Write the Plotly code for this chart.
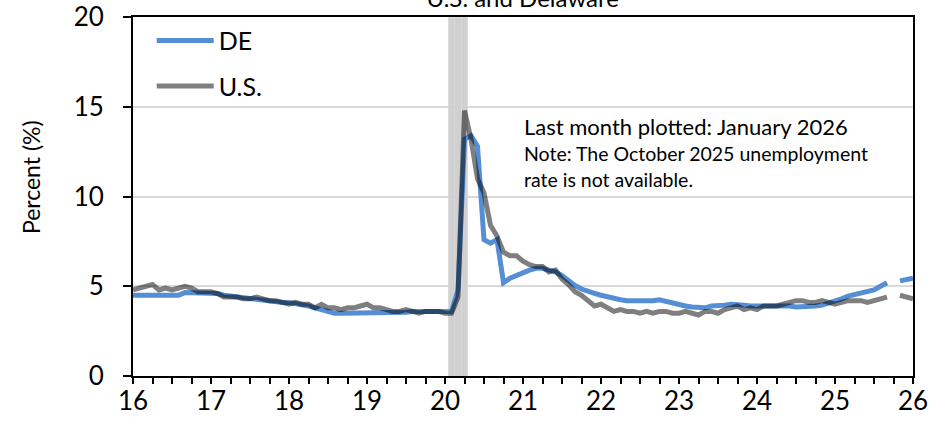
import pandas as pd
import plotly.graph_objects as go

# monthly unemployment rate, Jan 2016 - Jan 2026 (Oct 2025 not available)
months = pd.date_range("2016-01-01", "2026-01-01", freq="MS")

de_rate = [
    4.5, 4.5, 4.5, 4.5, 4.5, 4.5, 4.5, 4.5, 4.65, 4.65, 4.65, 4.65,
    4.65, 4.6, 4.5, 4.45, 4.4, 4.4, 4.35, 4.3, 4.25, 4.2, 4.15, 4.1,
    4.1, 4.05, 4.0, 3.9, 3.8, 3.7, 3.6, 3.5, 3.5, 3.5, 3.5, 3.5,
    3.5, 3.5, 3.5, 3.5, 3.5, 3.5, 3.55, 3.6, 3.6, 3.6, 3.6, 3.6,
    3.6, 3.6, 4.8, 13.2, 13.4, 12.8, 7.6, 7.4, 7.6, 5.2, 5.45, 5.6,
    5.8, 5.9, 6.0, 6.0, 5.9, 5.8, 5.6, 5.3, 5.05, 4.85, 4.7, 4.6,
    4.5, 4.4, 4.3, 4.25, 4.2, 4.2, 4.15, 4.15, 4.2, 4.25, 4.15, 4.05,
    4.0, 3.9, 3.85, 3.8, 3.8, 3.9, 3.9, 3.95, 4.0, 4.0, 3.95, 3.9,
    3.9, 3.95, 3.95, 3.95, 3.95, 3.9, 3.85, 3.85, 3.85, 3.9, 3.95, 4.05,
    4.15, 4.3, 4.45, 4.55, 4.65, 4.7, 4.8, 5.0, 5.2, None, 5.3, 5.35,
    5.45,
]

us_rate = [
    4.8, 4.9, 5.0, 5.1, 4.8, 4.9, 4.8, 4.9, 5.0, 4.9, 4.7, 4.7,
    4.7, 4.6, 4.4, 4.4, 4.4, 4.3, 4.3, 4.4, 4.3, 4.2, 4.2, 4.1,
    4.0, 4.1, 4.0, 4.0, 3.8, 4.0, 3.8, 3.8, 3.7, 3.8, 3.8, 3.9,
    4.0, 3.8, 3.8, 3.7, 3.6, 3.6, 3.7, 3.6, 3.5, 3.6, 3.6, 3.6,
    3.5, 3.5, 4.4, 14.8, 13.2, 11.0, 10.2, 8.4, 7.8, 6.9, 6.7, 6.7,
    6.4, 6.2, 6.1, 6.1, 5.8, 5.9, 5.4, 5.1, 4.7, 4.5, 4.2, 3.9,
    4.0, 3.8, 3.6, 3.7, 3.6, 3.6, 3.5, 3.6, 3.5, 3.6, 3.6, 3.5,
    3.5, 3.6, 3.5, 3.4, 3.6, 3.6, 3.5, 3.7, 3.8, 3.9, 3.7, 3.8,
    3.7, 3.9, 3.9, 3.9, 4.0, 4.1, 4.2, 4.2, 4.1, 4.1, 4.2, 4.1,
    4.0, 4.1, 4.2, 4.2, 4.2, 4.1, 4.2, 4.3, 4.4, None, 4.5, 4.4,
    4.3,
]

# NBER recession months
recession_months = ["2020-02", "2020-03", "2020-04"]
recession_top = 20

x_labels = ["16", "17", "18", "19", "20", "21", "22", "23", "24", "25", "26"]
y_ticks = [0, 5, 10, 15, 20]


def to_x(ts):
    return ts.year - 2000 + (ts.month - 1) / 12


xs = [to_x(m) for m in months]
rec_x = [to_x(pd.Timestamp(m + "-01")) for m in recession_months]

FONT = "Lato, Carlito, 'Open Sans', sans-serif"

fig = go.Figure()
fig.add_trace(go.Bar(x=rec_x, y=[recession_top] * len(rec_x), width=1 / 12,
                     marker=dict(color="#D0D0D0", line=dict(width=0)),
                     showlegend=False, hoverinfo="skip"))
fig.add_trace(go.Scatter(x=xs, y=de_rate, mode="lines", name="DE", legendgroup="de",
                         line=dict(color="#558ED5", width=5), connectgaps=False))
fig.add_trace(go.Scatter(x=xs, y=us_rate, mode="lines", name="U.S.", legendgroup="us",
                         line=dict(color="rgba(0,0,0,0.5)", width=5), connectgaps=False))

fig.update_layout(
    width=947, height=424,
    margin=dict(l=133, r=34, t=17, b=48),
    paper_bgcolor="white",
    plot_bgcolor="white",
    font=dict(family=FONT, color="black"),
    title=dict(text="U.S. and Delaware", x=0.552, xanchor="center", automargin=False,
               y=0.984, yanchor="bottom", font=dict(size=24, color="black")),
    showlegend=True,
    legend=dict(x=0.024, y=0.998, xanchor="left", yanchor="top", itemwidth=57,
                font=dict(size=25, color="black"), bgcolor="rgba(0,0,0,0)",
                tracegroupgap=10),
    xaxis=dict(
        range=[16, 26], automargin=False,
        tickmode="array", tickvals=[int(t) for t in x_labels], ticktext=x_labels,
        ticks="outside", ticklen=6, tickcolor="black", tickwidth=1.5,
        ticklabelstandoff=-5,
        minor=dict(dtick=0.25, ticks="outside", ticklen=6, tickcolor="black", tickwidth=1.5),
        showline=True, linecolor="black", linewidth=2, mirror=True,
        showgrid=False, zeroline=False,
        tickfont=dict(size=26, color="black"),
    ),
    yaxis=dict(
        range=[0, 20.01], automargin=False, tickmode="array", tickvals=y_ticks,
        ticks="outside", ticklen=8, tickcolor="black", tickwidth=1.5,
        ticklabelstandoff=14,
        showline=True, linecolor="black", linewidth=2, mirror=True,
        showgrid=True, gridcolor="#D9D9D9", gridwidth=1.5, zeroline=False,
        tickfont=dict(size=26, color="black"),
    ),
    annotations=[
        dict(text="Percent (%)", xref="paper", yref="paper", x=-0.13, y=0.553,
             xanchor="center", yanchor="middle", textangle=-90, showarrow=False,
             font=dict(size=23, color="black")),
        dict(text="Last month plotted: January 2026", xref="paper", yref="paper",
             x=0.499, y=0.694, xanchor="left", yanchor="middle", showarrow=False,
             font=dict(size=22, color="black")),
        dict(text="Note: The October 2025 unemployment",
             xref="paper", yref="paper", x=0.499, y=0.621, xanchor="left", yanchor="middle",
             showarrow=False, font=dict(size=19.5, color="black")),
        dict(text="rate is not available.",
             xref="paper", yref="paper", x=0.499, y=0.546, xanchor="left", yanchor="middle",
             showarrow=False, font=dict(size=19.5, color="black")),
    ],
)

fig.write_html("out.html", config={"displayModeBar": False},
               post_script="document.body.style.margin='0';")
